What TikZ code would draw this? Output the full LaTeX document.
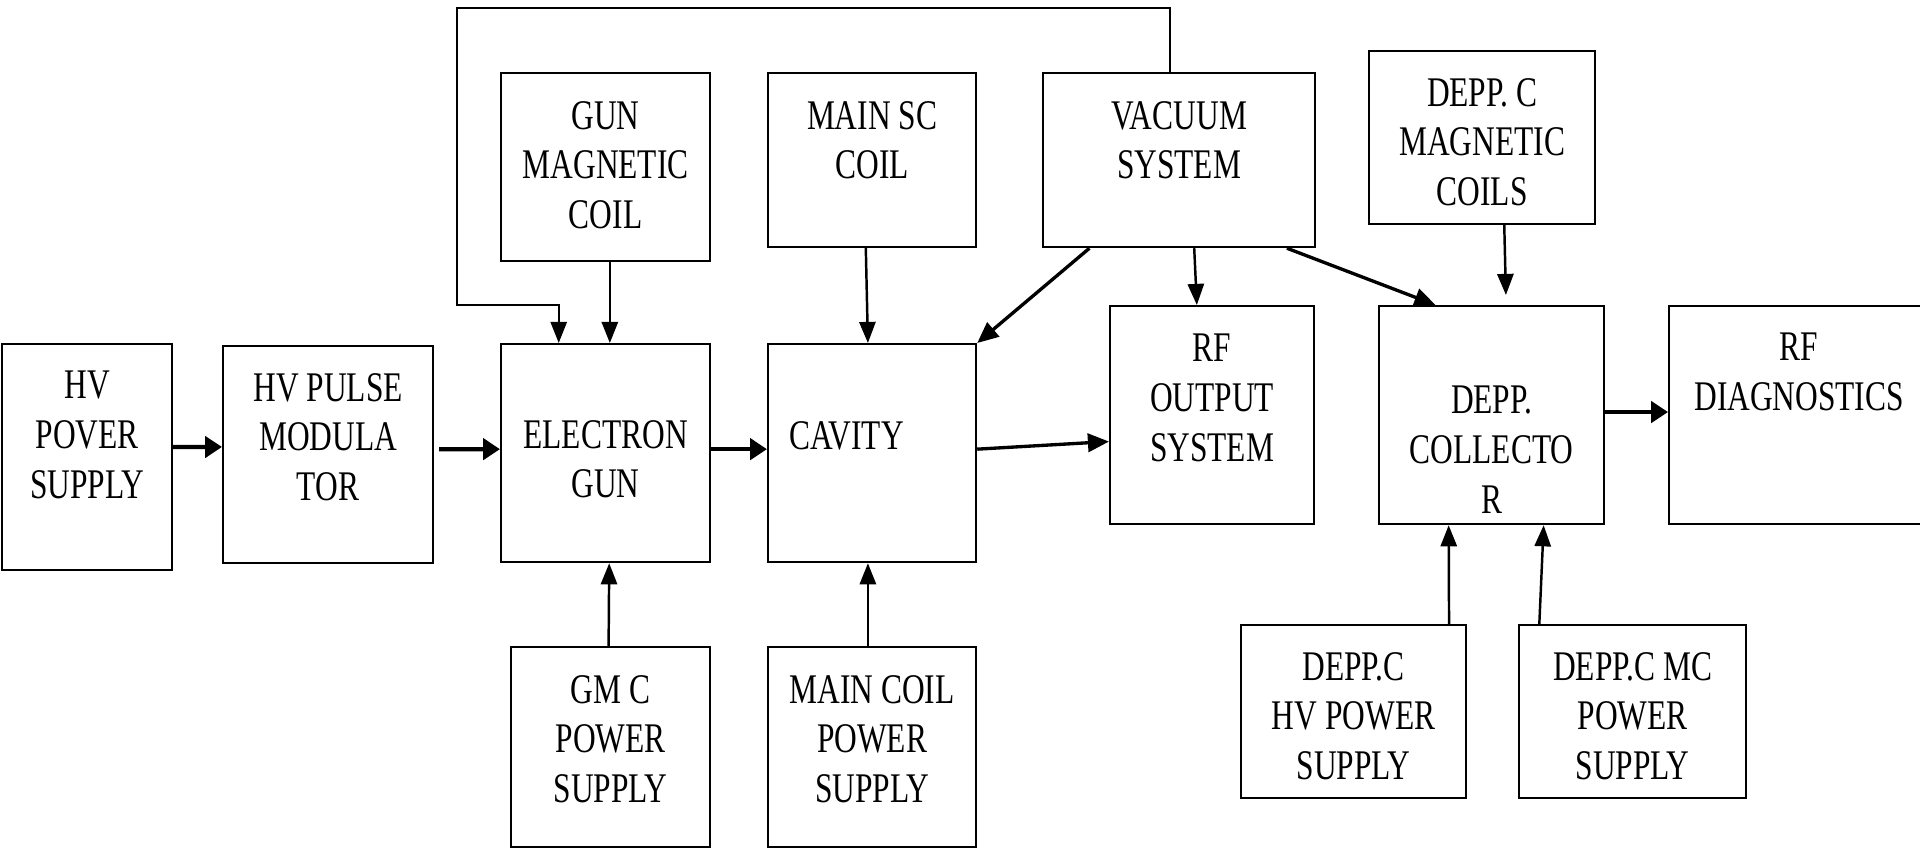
\documentclass[tikz,border=0pt]{standalone}
\usepackage{fontspec}
\setmainfont[FakeStretch=0.745]{Liberation Serif}
\usepackage{tikz}
\usetikzlibrary{arrows.meta,calc}

% text of a block: width, height, gap above first line, lines
\newcommand{\blktext}[4]{\parbox[c][#2][t]{#1}{\centering\vspace*{#3}#4\par}}

\tikzset{
  blk/.style={draw, line width=0.6pt, inner sep=0pt, anchor=north west},
  thinarr/.style={-{Triangle[length=6pt,width=4.6pt]}, line width=0.7pt},
  midarr/.style={-{Triangle[length=6pt,width=5.2pt]}, line width=0.95pt},
  thickarr/.style={-{Triangle[length=4.8pt,width=6pt]}, line width=1.2pt}
}

\begin{document}
\begin{tikzpicture}[x=0.01cm, y=-0.01cm, font=\fontsize{12pt}{14.2pt}\selectfont]
  \useasboundingbox (0,0) rectangle (1920,848);

  % main chain
  \node[blk] (hvps) at (1,343)   {\blktext{1.70cm}{2.26cm}{0.27cm}{HV\\POVER\\SUPPLY}};
  \node[blk] (mod)  at (222,345) {\blktext{2.10cm}{2.17cm}{0.27cm}{HV PULSE\\MODULA\\TOR}};
  \node[blk] (gun)  at (500,343) {\blktext{2.09cm}{2.18cm}{0.76cm}{ELECTRON\\GUN}};
  \node[blk] (cav)  at (767,343) {\blktext{2.08cm}{2.18cm}{0.77cm}{\raggedright\hspace*{0.21cm}CAVITY}};
  \node[blk] (rfo)  at (1109,305) {\blktext{2.04cm}{2.18cm}{0.28cm}{RF\\OUTPUT\\SYSTEM}};
  \node[blk] (col)  at (1378,305) {\blktext{2.25cm}{2.18cm}{0.80cm}{DEPP.\\COLLECTO\\R}};
  \node[blk] (rfd)  at (1668,305) {\blktext{2.60cm}{2.18cm}{0.27cm}{RF\\DIAGNOSTICS}};

  % upper row
  \node[blk] (gmc) at (500,72)   {\blktext{2.09cm}{1.88cm}{0.28cm}{GUN\\MAGNETIC\\COIL}};
  \node[blk] (msc) at (767,72)   {\blktext{2.08cm}{1.74cm}{0.28cm}{MAIN SC\\COIL}};
  \node[blk] (vac) at (1042,72)  {\blktext{2.72cm}{1.74cm}{0.28cm}{VACUUM\\SYSTEM}};
  \node[blk] (dcm) at (1368,50)  {\blktext{2.26cm}{1.73cm}{0.27cm}{DEPP. C\\MAGNETIC\\COILS}};

  % lower row
  \node[blk] (gmps) at (510,646)  {\blktext{1.99cm}{2.00cm}{0.28cm}{GM C\\POWER\\SUPPLY}};
  \node[blk] (mcps) at (767,646)  {\blktext{2.08cm}{2.00cm}{0.28cm}{MAIN COIL\\POWER\\SUPPLY}};
  \node[blk] (dhv)  at (1240,624) {\blktext{2.25cm}{1.73cm}{0.27cm}{DEPP.C\\HV POWER\\SUPPLY}};
  \node[blk] (dmc)  at (1518,624) {\blktext{2.27cm}{1.73cm}{0.27cm}{DEPP.C MC\\POWER\\SUPPLY}};

  % beam line
  \draw[thickarr] ($(hvps.north east)!0.456!(hvps.south east)$) -- ($(mod.north west)!0.465!(mod.south west)$);
  \draw[thickarr, shorten <=0.05cm] ($(mod.north east)!0.475!(mod.south east)$) -- ($(gun.north west)!0.482!(gun.south west)$);
  \draw[thickarr] ($(gun.north east)!0.482!(gun.south east)$) -- ($(cav.north west)!0.482!(cav.south west)$);
  \draw[midarr] ($(cav.north east)!0.482!(cav.south east)$) -- ($(rfo.north west)!0.62!(rfo.south west)$);
  \draw[thickarr] ($(col.north east)!0.486!(col.south east)$) -- ($(rfd.north west)!0.486!(rfd.south west)$);

  % feedback from vacuum system
  \coordinate (fbtop) at (457,8);
  \coordinate (fbbend) at (457,305);
  \draw[thinarr, line width=0.6pt] ($(vac.north west)!0.467!(vac.north east)$) |- (fbtop) -- (fbbend)
    -| ($(gun.north west)!0.278!(gun.north east)$);

  % coils and vacuum
  \draw[thinarr] ($(gmc.south west)!0.52!(gmc.south east)$) -- ($(gun.north west)!0.52!(gun.north east)$);
  \draw[thinarr] ($(msc.south west)!0.47!(msc.south east)$) -- ($(cav.north west)!0.48!(cav.north east)$);
  \draw[midarr] ($(vac.south west)!0.173!(vac.south east)$) -- (cav.north east);
  \draw[thinarr] ($(vac.south west)!0.555!(vac.south east)$) -- ($(rfo.north west)!0.426!(rfo.north east)$);
  \draw[midarr] ($(vac.south west)!0.893!(vac.south east)$) -- ($(col.north west)!0.253!(col.north east)$);
  \draw[thinarr, shorten >=0.1cm] ($(dcm.south west)!0.597!(dcm.south east)$) -- ($(col.north west)!0.564!(col.north east)$);

  % supplies
  \draw[thinarr] ($(gmps.north west)!0.49!(gmps.north east)$) -- ($(gun.south west)!0.517!(gun.south east)$);
  \draw[thinarr] ($(mcps.north west)!0.48!(mcps.north east)$) -- ($(cav.south west)!0.48!(cav.south east)$);
  \draw[thinarr] ($(dhv.north west)!0.92!(dhv.north east)$) -- ($(col.south west)!0.311!(col.south east)$);
  \draw[thinarr] ($(dmc.north west)!0.093!(dmc.north east)$) -- ($(col.south west)!0.729!(col.south east)$);
\end{tikzpicture}
\end{document}
